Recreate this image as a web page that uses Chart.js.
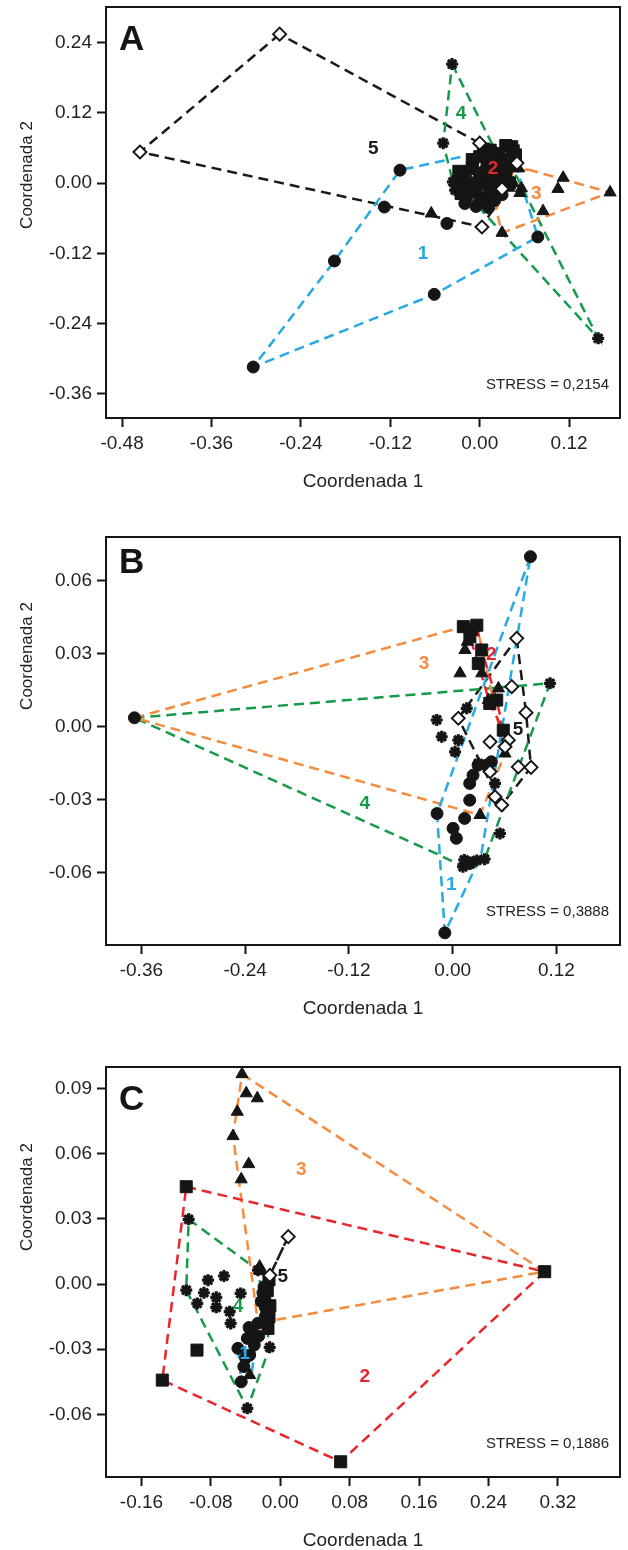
<!DOCTYPE html>
<html>
<head>
<meta charset="utf-8">
<script src="https://cdn.jsdelivr.net/npm/chart.js@4.4.1/dist/chart.umd.min.js"></script>
<style>
  html, body { margin: 0; padding: 0; background: #fff; }
  #wrap { position: relative; width: 628px; height: 1550px; }
  canvas { position: absolute; left: 0; }
</style>
</head>
<body>
<div id="wrap">
  <canvas id="chartA" width="628" height="510" style="top:0px"></canvas>
  <canvas id="chartB" width="628" height="520" style="top:520px"></canvas>
  <canvas id="chartC" width="628" height="505" style="top:1045px"></canvas>
</div>
<script>
// Cores dos grupos (envoltórias tracejadas e rótulos)
const GROUP_COLORS = { 1: '#27a9e1', 2: '#e8262b', 3: '#f58b3f', 4: '#17994a', 5: '#1a1a1a' };

// ---------- Painel A ----------
const aTicksX = [-0.48, -0.36, -0.24, -0.12, 0.00, 0.12];
const aTicksY = [0.24, 0.12, 0.00, -0.12, -0.24, -0.36];
const aCircles = [[-0.107, 0.022], [-0.195, -0.133], [-0.304, -0.314], [-0.061, -0.190], [0.078, -0.092],
  [-0.128, -0.041], [-0.044, -0.069], [-0.018, -0.026], [0.016, 0.056], [0.047, 0.036],
  [0.000, -0.030], [-0.010, -0.015], [0.010, -0.005], [0.020, 0.010], [0.005, 0.020], [0.030, -0.020],
  [-0.020, -0.035], [-0.005, -0.040], [0.012, -0.042], [0.020, -0.030]];
const aSquares = [[0.043, 0.062], [0.035, 0.064], [0.014, 0.056], [0.025, 0.050], [0.000, 0.045], [0.010, 0.035],
  [0.030, 0.040], [0.020, 0.025], [0.040, 0.030], [-0.010, 0.025], [0.000, 0.010], [0.015, 0.005],
  [-0.015, 0.000], [0.030, 0.010], [-0.005, -0.015], [0.010, -0.025], [0.025, -0.010], [0.048, 0.048],
  [0.005, 0.058], [0.045, 0.055], [0.020, 0.040], [0.035, 0.020], [0.010, 0.015], [-0.020, 0.010],
  [-0.028, 0.020], [-0.025, -0.018], [0.004, -0.033], [0.040, 0.000], [0.015, -0.012], [-0.010, 0.040]];
const aTriangles = [[0.175, -0.016], [0.112, 0.009], [0.105, -0.010], [0.085, -0.048], [0.030, -0.085],
  [0.039, -0.008], [0.056, -0.009], [0.054, -0.017], [0.052, 0.025], [-0.065, -0.052], [0.045, 0.000]];
const aStars = [[-0.037, 0.203], [-0.049, 0.068], [0.159, -0.265], [-0.036, 0.002], [-0.025, 0.010],
  [-0.030, -0.005], [-0.020, 0.020], [0.000, 0.000], [-0.020, -0.015], [-0.033, -0.012]];
const aDiamonds = [[-0.2685, 0.254], [-0.456, 0.053], [0.003, -0.075], [0.050, 0.034], [0.000, 0.068], [0.030, -0.010]];
const aHull1 = [[0.016, 0.056], [-0.107, 0.022], [-0.195, -0.133], [-0.304, -0.314], [-0.061, -0.190], [0.078, -0.092], [0.047, 0.036]];
const aHull2 = [[0.035, 0.064], [0.043, 0.062], [0.050, 0.040], [0.035, -0.005], [0.005, -0.020], [-0.015, 0.005], [0.000, 0.045]];
const aHull3 = [[0.065, 0.023], [0.175, -0.016], [0.030, -0.085], [0.022, -0.045], [0.045, 0.020]];
const aHull4 = [[-0.037, 0.203], [0.020, 0.058], [0.050, 0.010], [0.159, -0.265], [-0.020, -0.015], [-0.036, 0.002], [-0.049, 0.068]];
const aHull5 = [[-0.2685, 0.254], [-0.456, 0.053], [-0.018, -0.069], [0.003, -0.075], [0.025, -0.030], [0.000, 0.068]];
const aLabels = [[5, -0.143, 0.059], [4, -0.025, 0.119], [2, 0.018, 0.025], [3, 0.076, -0.018], [1, -0.076, -0.120]];

// ---------- Painel B ----------
const bTicksX = [-0.36, -0.24, -0.12, 0.00, 0.12];
const bTicksY = [0.06, 0.03, 0.00, -0.03, -0.06];
const bCircles = [[-0.368, 0.0037], [0.090, 0.070], [-0.009, -0.0848], [-0.018, -0.0357], [0.0139, -0.0377],
  [0.0005, -0.0418], [0.0043, -0.0459], [0.0198, -0.0302], [0.0198, -0.0233], [0.0236, -0.0199],
  [0.039, -0.0158], [0.0448, -0.0144], [0.0294, -0.0158], [0.020, -0.0560]];
const bSquares = [[0.0124, 0.0412], [0.028, 0.0418], [0.020, 0.037], [0.0337, 0.0316], [0.0297, 0.026],
  [0.051, 0.011], [0.043, 0.0096], [0.0586, -0.0014], [0.022, 0.040]];
const bTriangles = [[0.0086, 0.022], [0.0143, 0.0316], [0.0337, 0.022], [0.053, 0.0158], [0.0606, -0.011],
  [0.0317, -0.0363], [0.0413, 0.011], [0.017, 0.035]];
const bStars = [[0.1127, 0.0179], [0.0135, -0.0548], [0.020, -0.0565], [0.028, -0.055], [0.037, -0.0545],
  [0.012, -0.0576], [0.0548, -0.0439], [-0.0184, 0.0028], [-0.0126, -0.0041], [0.0066, -0.0055],
  [0.0028, -0.0103], [0.0163, 0.0076], [0.0297, -0.0151], [0.049, -0.0233]];
const bDiamonds = [[0.0741, 0.0364], [0.0684, 0.0165], [0.0849, 0.0058], [0.0433, -0.0062], [0.0644, -0.0055],
  [0.0606, -0.0082], [0.076, -0.0165], [0.0907, -0.0167], [0.049, -0.0288], [0.0568, -0.0322],
  [0.0066, 0.0035], [0.0433, -0.0185]];
const bHull1 = [[0.090, 0.070], [-0.018, -0.0357], [-0.009, -0.0848], [0.033, -0.0528]];
const bHull2 = [[0.0124, 0.0412], [0.028, 0.0418], [0.0337, 0.0316], [0.051, 0.011], [0.0586, -0.0014], [0.043, 0.0096], [0.0297, 0.026], [0.020, 0.037]];
const bHull3 = [[-0.368, 0.0037], [0.0124, 0.0412], [0.028, 0.0418], [0.0606, -0.011], [0.0317, -0.0363]];
const bHull4 = [[-0.368, 0.0037], [0.1127, 0.0179], [0.037, -0.0545], [0.012, -0.0576], [-0.015, -0.0528]];
const bHull5 = [[0.0741, 0.0364], [0.0849, 0.0058], [0.0907, -0.0167], [0.0568, -0.0322], [0.0066, 0.0035]];
const bLabels = [[3, -0.033, 0.026], [2, 0.0448, 0.0295], [5, 0.0756, -0.0014], [4, -0.1017, -0.0315], [1, -0.0015, -0.0651]];

// ---------- Painel C ----------
const cTicksX = [-0.16, -0.08, 0.00, 0.08, 0.16, 0.24, 0.32];
const cTicksY = [0.09, 0.06, 0.03, 0.00, -0.03, -0.06];
const cCircles = [[-0.045, -0.045], [-0.0488, -0.0296], [-0.0353, -0.0327], [-0.038, -0.025], [-0.033, -0.022],
  [-0.036, -0.020], [-0.0257, -0.018], [-0.020, -0.004], [-0.017, -0.011], [-0.0188, -0.0013],
  [-0.017, -0.0147], [-0.030, -0.028], [-0.040, -0.034], [-0.022, -0.008], [-0.025, -0.024], [-0.042, -0.038]];
const cSquares = [[-0.1084, 0.0448], [0.3048, 0.0057], [0.0696, -0.0818], [-0.136, -0.0442], [-0.096, -0.0304],
  [-0.0142, -0.0204], [-0.012, -0.010], [-0.015, -0.003], [-0.013, 0.002], [-0.018, -0.007], [-0.013, -0.015]];
const cTriangles = [[-0.0441, 0.0966], [-0.0392, 0.0878], [-0.0265, 0.0855], [-0.0496, 0.0793], [-0.0545, 0.0681],
  [-0.0364, 0.0552], [-0.045, 0.0482], [-0.0238, 0.008], [-0.022, 0.006], [-0.0353, -0.0419]];
const cStars = [[-0.1056, 0.0298], [-0.1084, -0.0028], [-0.038, -0.0572], [-0.0122, -0.0291], [-0.0257, 0.0064],
  [-0.0833, 0.0018], [-0.0649, 0.0037], [-0.088, -0.004], [-0.0957, -0.0089], [-0.0738, -0.0061],
  [-0.0738, -0.0107], [-0.0457, -0.0043], [-0.0583, -0.0127], [-0.0572, -0.0181]];
const cDiamonds = [[0.0092, 0.0218], [-0.012, 0.004]];
const cHull1 = [[-0.0488, -0.0296], [-0.045, -0.045], [-0.033, -0.041], [-0.028, -0.027], [-0.024, -0.018]];
const cHull2 = [[-0.1084, 0.0448], [0.3048, 0.0057], [0.0696, -0.0818], [-0.136, -0.0442]];
const cHull3 = [[-0.0441, 0.0966], [0.3048, 0.0057], [-0.012, -0.017], [-0.027, -0.014], [-0.0545, 0.0681]];
const cHull4 = [[-0.1056, 0.0298], [-0.0257, 0.0064], [-0.0122, -0.0291], [-0.038, -0.0572], [-0.1084, -0.0028]];
const cHull5 = [[0.0092, 0.0218], [-0.012, 0.004]];
const cLabels = [[3, 0.0242, 0.0525], [5, 0.003, 0.0034], [4, -0.0488, -0.0104], [1, -0.041, -0.0319], [2, 0.0973, -0.0427]];

const FONT = '"Liberation Sans", Arial, Helvetica, sans-serif';
const INK = '#151515';

// estilos dos marcadores
const MARKERS = {
  circle:   { pointStyle: 'circle',   pointRadius: 6,   pointBackgroundColor: INK,    pointBorderColor: INK, pointBorderWidth: 1 },
  square:   { pointStyle: 'rect',     pointRadius: 8.5, pointBackgroundColor: INK,    pointBorderColor: INK, pointBorderWidth: 1 },
  triangle: { pointStyle: 'triangle', pointRadius: 7,   pointBackgroundColor: INK,    pointBorderColor: INK, pointBorderWidth: 1 },
  star:     { pointStyle: 'star',     pointRadius: 6,   pointBackgroundColor: INK,    pointBorderColor: INK, pointBorderWidth: 3.2 },
  diamond:  { pointStyle: 'rectRot',  pointRadius: 6.5, pointBackgroundColor: '#fff', pointBorderColor: INK, pointBorderWidth: 1.9 }
};

const toXY = pts => pts.map(([x, y]) => ({ x, y }));

function hullDataset(pts, group) {
  return {
    data: toXY([...pts, pts[0]]),
    showLine: true,
    borderColor: GROUP_COLORS[group],
    borderWidth: 2.5,
    borderDash: [10, 6],
    pointRadius: 0,
    fill: false,
    order: 2
  };
}

function pointDataset(pts, kind) {
  return Object.assign({ data: toXY(pts), showLine: false, order: 1 }, MARKERS[kind]);
}

function makePanel(p) {
  const canvas = document.getElementById(p.id);
  const H = canvas.height;

  const annot = {
    id: 'annot' + p.letter,
    afterDraw(chart) {
      const { ctx, chartArea: a, scales: { x, y } } = chart;
      ctx.save();
      // moldura
      ctx.strokeStyle = INK;
      ctx.lineWidth = 2;
      ctx.strokeRect(a.left, a.top, a.right - a.left, a.bottom - a.top);
      // rótulos dos grupos
      ctx.textAlign = 'center';
      ctx.textBaseline = 'middle';
      ctx.font = 'bold 19px ' + FONT;
      p.labels.forEach(([g, vx, vy]) => {
        ctx.fillStyle = GROUP_COLORS[g];
        ctx.fillText(String(g), x.getPixelForValue(vx), y.getPixelForValue(vy));
      });
      // letra do painel
      ctx.fillStyle = INK;
      ctx.textAlign = 'left';
      ctx.textBaseline = 'alphabetic';
      ctx.font = 'bold 35px ' + FONT;
      ctx.fillText(p.letter, a.left + 13, a.top + p.letterBase);
      // stress
      ctx.font = '15px ' + FONT;
      ctx.textAlign = 'right';
      ctx.fillStyle = '#222';
      ctx.fillText(p.stress, a.right - 11, a.bottom - 29);
      // títulos dos eixos
      ctx.font = '19px ' + FONT;
      ctx.textAlign = 'center';
      ctx.textBaseline = 'middle';
      ctx.fillText('Coordenada 1', (a.left + a.right) / 2, a.bottom + 64);
      ctx.translate(27, p.yTitleAt);
      ctx.rotate(-Math.PI / 2);
      ctx.font = '17px ' + FONT;
      ctx.fillText('Coordenada 2', 0, 0);
      ctx.restore();
    }
  };

  const datasets = [
    pointDataset(p.diamonds, 'diamond'),
    pointDataset(p.circles, 'circle'),
    pointDataset(p.squares, 'square'),
    pointDataset(p.triangles, 'triangle'),
    pointDataset(p.stars, 'star'),
    ...p.hulls.map((h, i) => hullDataset(h, i + 1))
  ];

  const axisCommon = {
    type: 'linear',
    grid: { drawOnChartArea: false, drawTicks: true, tickLength: 9, tickWidth: 2, tickColor: INK },
    border: { display: true, color: INK, width: 2 },
    ticks: {
      color: '#222',
      font: { family: FONT, size: 19 },
      padding: 5,
      autoSkip: false,
      maxRotation: 0,
      callback: v => v.toFixed(2)
    }
  };

  new Chart(canvas, {
    type: 'scatter',
    data: { datasets },
    options: {
      responsive: false,
      animation: false,
      devicePixelRatio: 1,
      layout: { autoPadding: false, padding: { top: p.padTop, right: 8, left: 0, bottom: 0 } },
      plugins: { legend: { display: false }, tooltip: { enabled: false } },
      scales: {
        x: Object.assign({}, axisCommon, {
          min: p.xMin, max: p.xMax,
          afterBuildTicks: s => { s.ticks = p.ticksX.map(v => ({ value: v })); },
          afterFit: s => { s.height = H - p.areaBottom; s.paddingLeft = 0; s.paddingRight = 0; }
        }),
        y: Object.assign({}, axisCommon, {
          min: p.yMin, max: p.yMax,
          afterBuildTicks: s => { s.ticks = p.ticksY.map(v => ({ value: v })); },
          afterFit: s => { s.width = 106; s.paddingTop = 0; s.paddingBottom = 0; }
        })
      }
    },
    plugins: [annot]
  });
}

makePanel({
  id: 'chartA', letter: 'A', stress: 'STRESS = 0,2154',
  xMin: -0.5016, xMax: 0.1883, yMin: -0.401, yMax: 0.3004,
  ticksX: aTicksX, ticksY: aTicksY,
  circles: aCircles, squares: aSquares, triangles: aTriangles, stars: aStars, diamonds: aDiamonds,
  hulls: [aHull1, aHull2, aHull3, aHull4, aHull5], labels: aLabels,
  padTop: 7, areaBottom: 418, yTitleAt: 175, letterBase: 43
});

makePanel({
  id: 'chartB', letter: 'B', stress: 'STRESS = 0,3888',
  xMin: -0.4009, xMax: 0.1936, yMin: -0.0898, yMax: 0.0781,
  ticksX: bTicksX, ticksY: bTicksY,
  circles: bCircles, squares: bSquares, triangles: bTriangles, stars: bStars, diamonds: bDiamonds,
  hulls: [bHull1, bHull2, bHull3, bHull4, bHull5], labels: bLabels,
  padTop: 17, areaBottom: 425, yTitleAt: 136, letterBase: 36
});

makePanel({
  id: 'chartC', letter: 'C', stress: 'STRESS = 0,1886',
  xMin: -0.2009, xMax: 0.3916, yMin: -0.0888, yMax: 0.0999,
  ticksX: cTicksX, ticksY: cTicksY,
  circles: cCircles, squares: cSquares, triangles: cTriangles, stars: cStars, diamonds: cDiamonds,
  hulls: [cHull1, cHull2, cHull3, cHull4, cHull5], labels: cLabels,
  padTop: 22, areaBottom: 432, yTitleAt: 152, letterBase: 43
});
</script>
</body>
</html>
